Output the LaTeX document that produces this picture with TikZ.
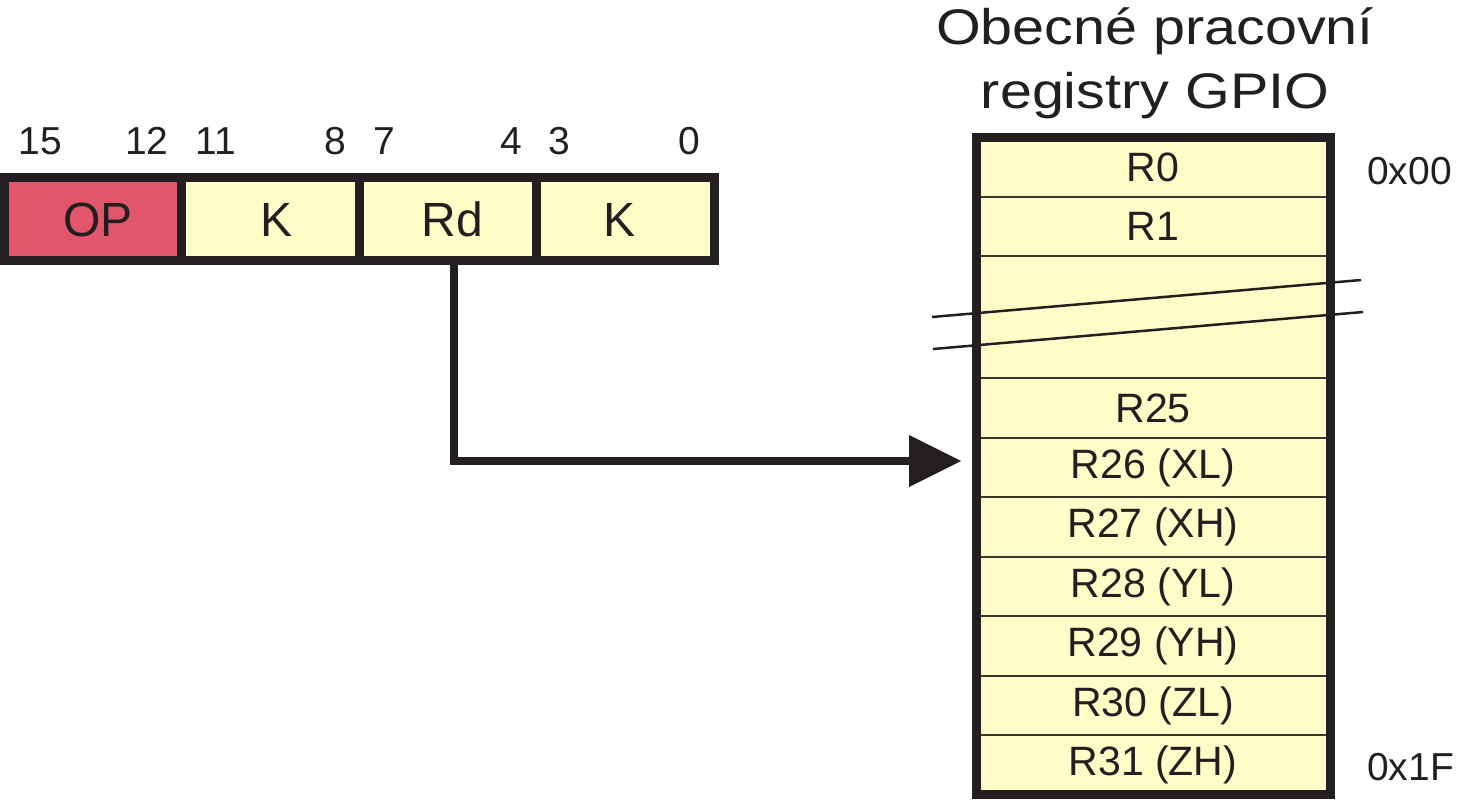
\documentclass[tikz,border=0pt]{standalone}
\usepackage{fontspec}
\setmainfont{Liberation Sans}
\usetikzlibrary{arrows.meta}
\definecolor{ink}{HTML}{231F20}
\definecolor{cellyel}{HTML}{FFFCC8}
\definecolor{oppink}{HTML}{E2566B}
\definecolor{rowline}{HTML}{3A372C}
\begin{document}
\begin{tikzpicture}[x=1pt,y=-1pt,
  bitcell/.style={draw=ink, line width=9pt, fill=cellyel, minimum height=82.5pt, inner sep=0pt, text=ink, font=\fontsize{48}{48}\selectfont},
  celltext/.style={inner sep=0pt, text=ink, font=\fontsize{48}{48}\selectfont},
  bitnum/.style={anchor=base, inner sep=0pt, text=ink, font=\fontsize{39}{39}\selectfont},
  regrow/.style={draw=rowline, line width=1.8pt, fill=cellyel, minimum width=354pt, minimum height=59.2pt, inner sep=0pt, text=ink, font=\fontsize{41}{41}\selectfont},
  addr/.style={anchor=west, inner sep=0pt, text=ink, font=\fontsize{39}{39}\selectfont},
  titletext/.style={anchor=base, inner sep=0pt, text=ink, font=\fontsize{50}{50}\selectfont},
  breakline/.style={draw=ink, line width=2.5pt},
  conn/.style={draw=ink, line width=8pt, -{Triangle[length=52pt,width=52pt,line width=0pt]}}
]
\useasboundingbox (0,0) rectangle (1457,803);

% instruction word
\node[bitcell, fill=oppink, minimum width=177pt] (op) at (93,218.75) {};
\node[bitcell, minimum width=177.5pt] (k1) at (270.25,218.75) {};
\node[bitcell, minimum width=177pt] (rd) at (447.5,218.75) {};
\node[bitcell, minimum width=178pt] (k2) at (625,218.75) {};
\node[celltext] (opl) at ([xshift=5pt,yshift=-1pt]op.center) {OP};
\node[celltext] (k1l) at ([xshift=6pt,yshift=-1pt]k1.center) {K};
\node[celltext] (rdl) at ([xshift=5pt,yshift=-1pt]rd.center) {Rd};
\node[celltext] (k2l) at ([xshift=-5pt,yshift=-1pt]k2.center) {K};

% bit numbers
\node[bitnum] (b15) at (40.5,154) {15};
\node[bitnum] (b12) at (147,154) {12};
\node[bitnum] (b11) at (216,154) {11};
\node[bitnum] (b8) at (335,154) {8};
\node[bitnum] (b7) at (384,154) {7};
\node[bitnum] (b4) at (511.5,154) {4};
\node[bitnum] (b3) at (559.5,154) {3};
\node[bitnum] (b0) at (689,154) {0};

% title
\node[titletext] (t1) at (1155,44) {\scalebox{1.15}[1]{Obecné pracovní}};
\node[titletext] (t2) at (1155,108) {\scalebox{1.15}[1]{registry GPIO}};

% register file rows
\node[regrow] (r0) at (1153,167.5) {R0};
\node[regrow] (r1) at (1153,226.7) {R1};
\node[regrow, minimum height=121.8pt] (gap) at (1153,317.2) {};
\node[regrow] (r25) at (1153,408.1) {R25};
\node[regrow] (r26) at (1153,467.5) {R26 (XL)};
\node[regrow] (r27) at (1153,527) {R27 (XH)};
\node[regrow] (r28) at (1153,586.5) {R28 (YL)};
\node[regrow] (r29) at (1153,646) {R29 (YH)};
\node[regrow] (r30) at (1153,705.5) {R30 (ZL)};
\node[regrow] (r31) at (1153,765) {R31 (ZH)};

% break lines
\draw[breakline] (932,317) -- (1361,280);
\draw[breakline] (933,349) -- (1363,312);

% outer frame
\node[draw=ink, line width=9pt, minimum width=354pt, minimum height=657pt, inner sep=0pt] (regs) at (1153,466) {};

% addresses
\node[addr] (a0) at (1367,171) {0x00};
\node[addr] (a1f) at (1367,767) {0x1F};

% connector
\coordinate (tip) at (961,461);
\draw[conn] ([xshift=6.5pt]rd.south) |- (tip);
\end{tikzpicture}
\end{document}
